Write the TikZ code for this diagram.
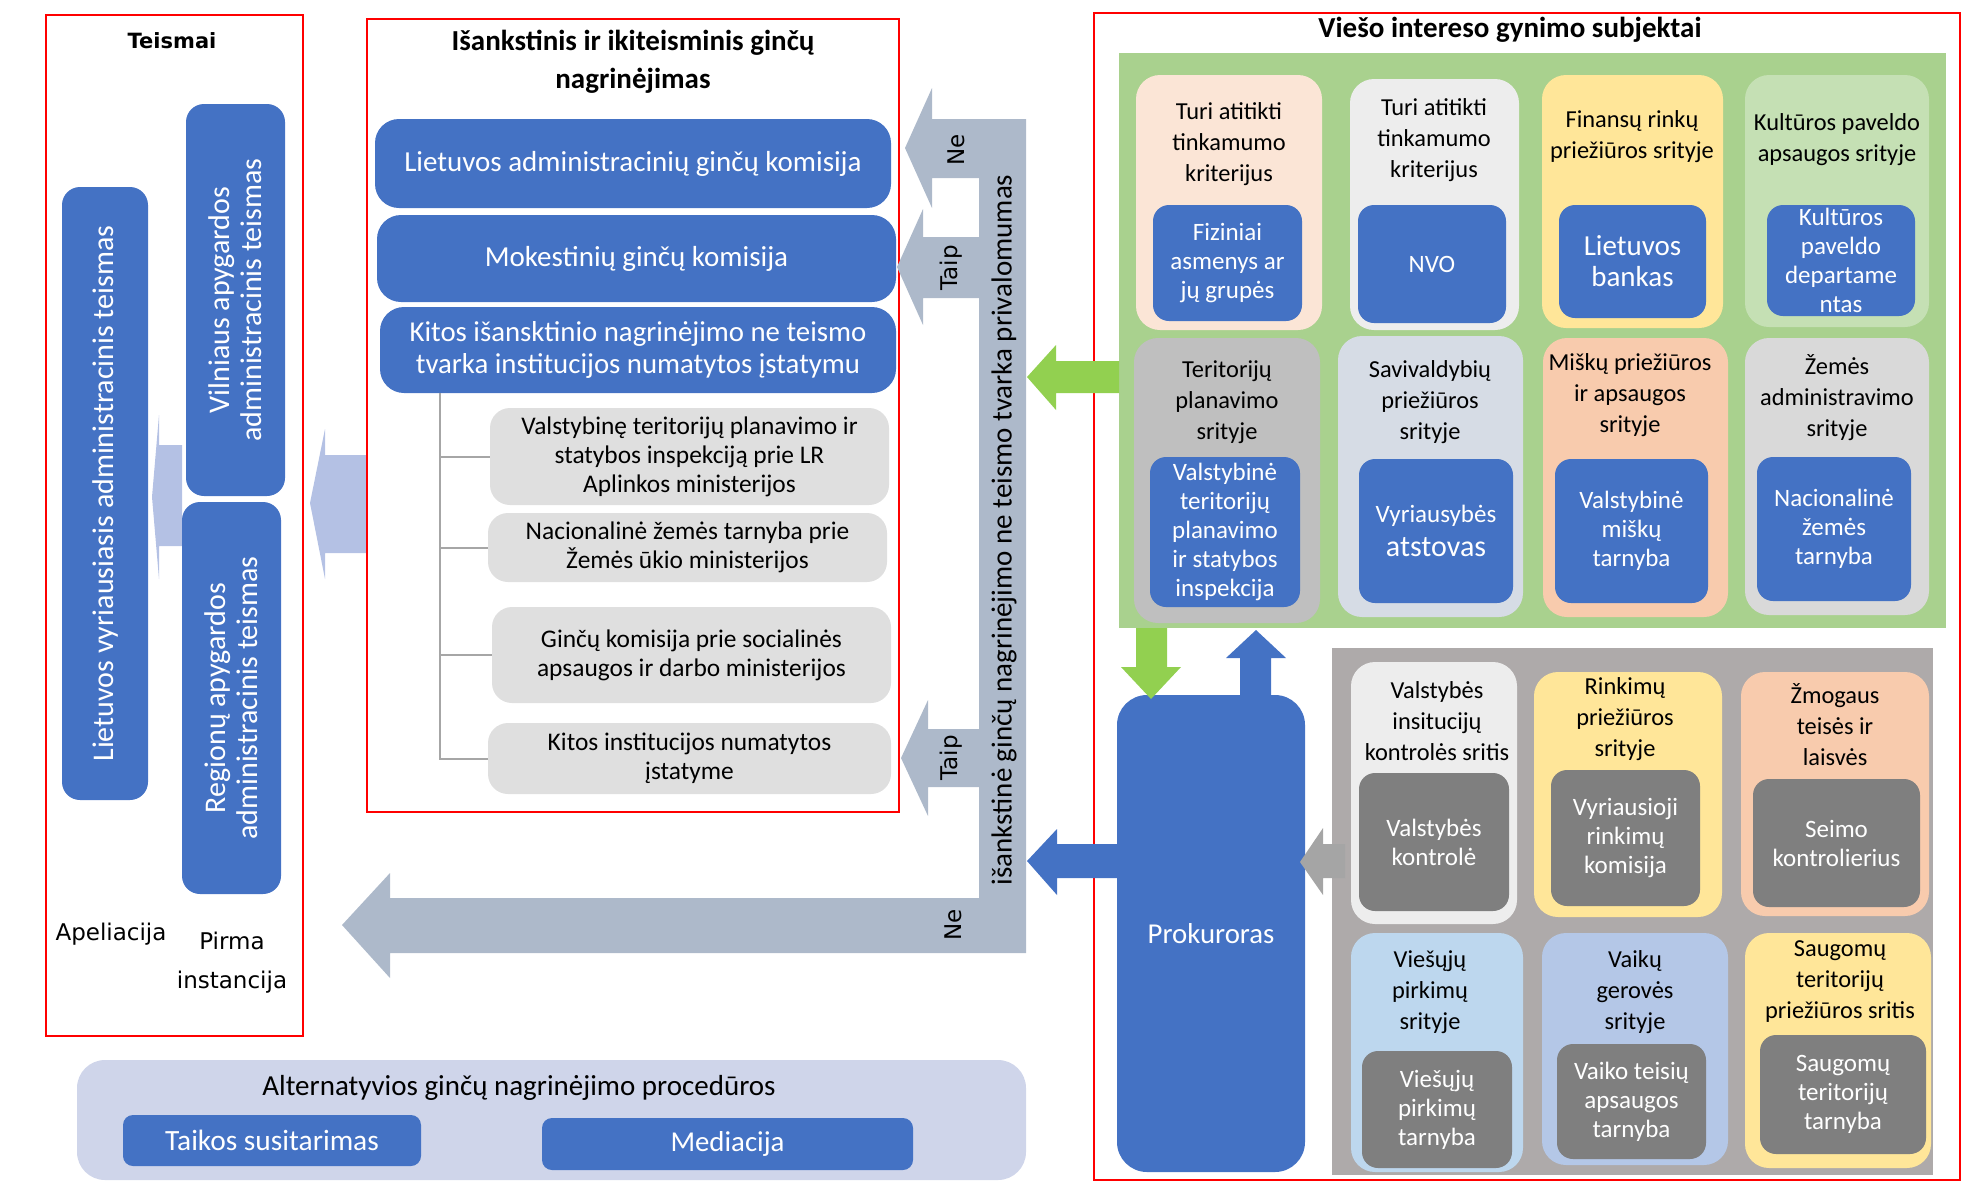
\documentclass[tikz,border=0pt]{standalone}
\usepackage{fontspec}
\setmainfont{Carlito}
\newfontfamily\vfont{DejaVu Sans}
\definecolor{cblue}{HTML}{4472C4}
\definecolor{arrgray}{HTML}{ADB9CA}
\definecolor{courtarr}{HTML}{B4C1E4}
\definecolor{gpanel}{HTML}{A9D18E}
\definecolor{garrow}{HTML}{92D050}
\definecolor{dpanel}{HTML}{AEAAAA}
\definecolor{dinner}{HTML}{7F7F7F}
\definecolor{altbg}{HTML}{CFD5EA}
\definecolor{lgray}{HTML}{DFDFDF}
\definecolor{cpeach}{HTML}{FBE5D6}
\definecolor{clgray}{HTML}{EDEDED}
\definecolor{cyellow}{HTML}{FFE699}
\definecolor{clgreen}{HTML}{C5E0B4}
\definecolor{cgray}{HTML}{BFBFBF}
\definecolor{cbluegray}{HTML}{D6DCE5}
\definecolor{corange}{HTML}{F8CBAD}
\definecolor{cgraytwo}{HTML}{D9D9D9}
\definecolor{clblue}{HTML}{BDD7EE}
\definecolor{clav}{HTML}{B4C7E7}
\definecolor{redline}{HTML}{FF0000}
\definecolor{treegray}{HTML}{A6A6A6}
\definecolor{sidearrow}{HTML}{A5A5A5}
\newcommand\fs[2]{\fontsize{#1}{#2}\selectfont}
\newcommand\bx[7]{\node[#6,anchor=center,minimum width={(#4-#2)*0.5pt},minimum height={(#5-#3)*0.5pt}] (#1) at ({(#2+#4)/2},{(#3+#5)/2}) {#7};}
\begin{document}
\begin{tikzpicture}[x=0.5pt,y=-0.5pt,
  frame/.style={draw=redline,line width=0.75pt,inner sep=0pt},
  bluebox/.style={fill=cblue,text=white,inner sep=0pt,align=center,rounded corners=6pt},
  graybox/.style={fill=lgray,inner sep=0pt,align=center,rounded corners=10pt,font=\fs{12.7}{14.5}},
  card/.style={inner sep=0pt,rounded corners=12pt},
  head/.style={align=center,font=\fs{12.2}{15.5},inner sep=0pt},
  innerb/.style={fill=cblue,text=white,inner sep=0pt,align=center,rounded corners=8pt,font=\fs{12.5}{14.5}},
  innerg/.style={fill=dinner,text=white,inner sep=0pt,align=center,rounded corners=8pt,font=\fs{12.5}{14.5}},
  courttext/.style={rotate=90,text=white,align=center,font=\fs{15}{16},inner sep=0pt},
  vlabel/.style={rotate=90,font=\vfont\fs{11.5}{13},inner sep=0pt}]
\useasboundingbox (0,0) rectangle (1965,1185);

% ---------------- Teismai ----------------
\bx{teismai}{46}{15}{303}{1036}{frame}{}
\node[font=\vfont\bfseries\fs{10.5}{13}] (tt) at (172,41) {Teismai};
\fill[courtarr] (152,497) -- (159,415) -- (159,445) -- (182,445) -- (182,546) -- (159,546) -- (159,579) -- cycle;
\fill[courtarr] (310,503) -- (325,429) -- (325,455) -- (367,455) -- (367,553) -- (325,553) -- (325,579) -- cycle;
\bx{lva}{62}{187}{148}{800}{bluebox,rounded corners=9pt}{}
\bx{vaat}{186}{104}{285}{496}{bluebox,rounded corners=9pt}{}
\bx{raat}{182}{502}{281}{894}{bluebox,rounded corners=9pt}{}
\node[courttext] (lvat) at (lva.center) {Lietuvos vyriausiasis administracinis teismas};
\node[courttext] (vaatt) at (vaat.center) {Vilniaus apygardos\\administracinis teismas};
\node[courttext] (raatt) at (raat.center) {Regionų apygardos\\administracinis teismas};
\node[font=\vfont\fs{11.5}{18}] (apel) at (111,934) {Apeliacija};
\node[font=\vfont\fs{11.5}{19.5},align=center] (pirma) at (232,963) {Pirma\\instancija};

% ---------------- Middle ----------------
\bx{ikiteism}{367}{19}{899}{812}{frame}{}
\node[font=\bfseries\fs{14.5}{19},align=center] (mt) at (633,62) {Išankstinis ir ikiteisminis ginčų\\nagrinėjimas};
\bx{lagk}{375}{119}{891}{208}{bluebox,rounded corners=12pt,font=\fs{14.5}{16}}{Lietuvos administracinių ginčų komisija}
\bx{mgk}{377}{215}{896}{302}{bluebox,rounded corners=12pt,font=\fs{14.5}{16}}{Mokestinių ginčų komisija}
\bx{kitos}{380}{307}{896}{393}{bluebox,rounded corners=12pt,font=\fs{14.4}{16}}{Kitos išansktinio nagrinėjimo ne teismo\\tvarka institucijos numatytos įstatymu}
\bx{ga}{490}{408}{889}{505}{graybox}{Valstybinę teritorijų planavimo ir\\statybos inspekciją prie LR\\Aplinkos ministerijos}
\bx{gb}{488}{513}{887}{582}{graybox}{Nacionalinė žemės tarnyba prie\\Žemės ūkio ministerijos}
\bx{gc}{492}{607}{891}{703}{graybox}{Ginčų komisija prie socialinės\\apsaugos ir darbo ministerijos}
\bx{gd}{488}{723}{891}{794}{graybox}{Kitos institucijos numatytos\\įstatyme}
\coordinate (tr) at (440,393);
\draw[treegray,line width=1pt] (tr) |- (gd.west);
\foreach \g in {ga,gb,gc} \draw[treegray,line width=1pt] (tr |- \g.west) -- (\g.west);

% ---------------- Gray decision structure ----------------
\fill[arrgray] (1026,119) -- (1026,953) -- (390,953) -- (390,978) -- (342,925) -- (390,873) -- (390,898)
  -- (979,898) -- (979,787) -- (928,787) -- (928,816) -- (901,758) -- (928,700) -- (928,729) -- (979,729)
  -- (979,298) -- (923,298) -- (923,325) -- (897,267) -- (923,209) -- (923,237) -- (979,237)
  -- (979,178) -- (932,178) -- (932,208) -- (905,148) -- (932,88) -- (932,119) -- cycle;
\node[rotate=90,font=\fs{14.5}{16},inner sep=0pt] (priv) at (1004,530) {išankstinė ginčų nagrinėjimo ne teismo tvarka privalomumas};
\node[vlabel] (ne1) at (956,150) {Ne};
\node[vlabel] (taip1) at (951,268) {Taip};
\node[vlabel] (taip2) at (951,758) {Taip};
\node[vlabel] (ne2) at (953,925) {Ne};

% ---------------- Right ----------------
\bx{viesas}{1094}{13}{1960}{1180}{frame}{}
\node[font=\bfseries\fs{14.5}{16}] (rt) at (1510,30) {Viešo intereso gynimo subjektai};
\bx{gpan}{1119}{53}{1946}{628}{fill=gpanel,inner sep=0pt}{}

\bx{c1}{1136}{75}{1322}{330}{card,fill=cpeach}{}
\node[head] (c1h) at (1229,144) {Turi atitikti\\tinkamumo\\kriterijus};
\bx{c1i}{1153}{205}{1302}{321}{innerb}{Fiziniai\\asmenys ar\\jų grupės}
\bx{c2}{1350}{79}{1519}{330}{card,fill=clgray}{}
\node[head] (c2h) at (1434,140) {Turi atitikti\\tinkamumo\\kriterijus};
\bx{c2i}{1358}{205}{1506}{323}{innerb}{NVO}
\bx{c3}{1542}{75}{1723}{328}{card,fill=cyellow}{}
\node[head] (c3h) at (1632,137) {Finansų rinkų\\priežiūros srityje};
\bx{c3i}{1559}{205}{1706}{318}{innerb,font=\fs{14.5}{15.5}}{Lietuvos\\bankas}
\bx{c4}{1745}{75}{1929}{327}{card,fill=clgreen}{}
\node[head] (c4h) at (1837,140) {Kultūros paveldo\\apsaugos srityje};
\bx{c4i}{1767}{205}{1915}{316}{innerb}{Kultūros\\paveldo\\departame\\ntas}

\bx{c5}{1134}{338}{1320}{623}{card,fill=cgray}{}
\node[head] (c5h) at (1227,402) {Teritorijų\\planavimo\\srityje};
\bx{c5i}{1150}{457}{1300}{607}{innerb}{Valstybinė\\teritorijų\\planavimo\\ir statybos\\inspekcija}
\bx{c6}{1338}{336}{1523}{617}{card,fill=cbluegray}{}
\node[head] (c6h) at (1430,402) {Savivaldybių\\priežiūros\\srityje};
\bx{c6i}{1359}{459}{1513}{603}{innerb,font=\fs{12.5}{17}}{Vyriausybės\\{\fs{15}{17}atstovas}}
\bx{c7}{1543}{338}{1728}{617}{card,fill=corange}{}
\node[head] (c7h) at (1630,395) {Miškų priežiūros\\ir apsaugos\\srityje};
\bx{c7i}{1555}{459}{1708}{603}{innerb}{Valstybinė\\miškų\\tarnyba}
\bx{c8}{1745}{338}{1929}{615}{card,fill=cgraytwo}{}
\node[head] (c8h) at (1837,398) {Žemės\\administravimo\\srityje};
\bx{c8i}{1757}{457}{1911}{601}{innerb}{Nacionalinė\\žemės\\tarnyba}

\bx{dpan}{1332}{648}{1933}{1175}{fill=dpanel,inner sep=0pt}{}
\bx{d1}{1351}{662}{1517}{924}{card,fill=clgray}{}
\node[head] (d1h) at (1437,721) {Valstybės\\insitucijų\\kontrolės sritis};
\bx{d1i}{1359}{773}{1509}{911}{innerg}{Valstybės\\kontrolė}
\bx{d2}{1534}{672}{1722}{917}{card,fill=cyellow}{}
\node[head] (d2h) at (1625,719) {Rinkimų\\priežiūros\\srityje};
\bx{d2i}{1551}{770}{1700}{906}{innerg}{Vyriausioji\\rinkimų\\komisija}
\bx{d3}{1741}{672}{1929}{916}{card,fill=corange}{}
\node[head] (d3h) at (1835,725) {Žmogaus\\teisės ir\\laisvės};
\bx{d3i}{1753}{779}{1920}{907}{innerg}{Seimo\\kontrolierius}
\bx{d4}{1351}{933}{1523}{1172}{card,fill=clblue}{}
\node[head] (d4h) at (1430,992) {Viešųjų\\pirkimų\\srityje};
\bx{d4i}{1362}{1051}{1512}{1168}{innerg}{Viešųjų\\pirkimų\\tarnyba}
\bx{d5}{1542}{933}{1728}{1165}{card,fill=clav}{}
\node[head] (d5h) at (1635,992) {Vaikų\\gerovės\\srityje};
\bx{d5i}{1557}{1044}{1706}{1159}{innerg}{Vaiko teisių\\apsaugos\\tarnyba}
\bx{d6}{1745}{933}{1931}{1168}{card,fill=cyellow}{}
\node[head] (d6h) at (1840,982) {Saugomų\\teritorijų\\priežiūros sritis};
\bx{d6i}{1760}{1035}{1926}{1154}{innerg}{Saugomų\\teritorijų\\tarnyba}

\bx{prok}{1117}{695}{1305}{1172}{fill=cblue,text=white,inner sep=0pt,rounded corners=15pt,font=\fs{14.4}{16}}{Prokuroras}

% arrows right side
\fill[garrow] (1027,377) -- (1056,345) -- (1056,361) -- (1119,361) -- (1119,393) -- (1056,393) -- (1056,410) -- cycle;
\fill[cblue] (1027,861) -- (1057,829) -- (1057,844) -- (1118,844) -- (1118,878) -- (1057,878) -- (1057,895) -- cycle;
\fill[garrow] (1136,628) -- (1167,628) -- (1167,667) -- (1181,667) -- (1151,699) -- (1121,667) -- (1136,667) -- cycle;
\fill[cblue] (1240,700) -- (1240,658) -- (1226,658) -- (1256,630) -- (1286,658) -- (1271,658) -- (1271,700) -- cycle;
\fill[sidearrow] (1300,862) -- (1323,828) -- (1323,844) -- (1345,844) -- (1345,878) -- (1323,878) -- (1323,895) -- cycle;

% ---------------- Alternatives ----------------
\bx{alt}{77}{1060}{1026}{1180}{fill=altbg,rounded corners=14pt,inner sep=0pt}{}
\node[font=\fs{14.5}{16}] (altt) at (519,1088) {Alternatyvios ginčų nagrinėjimo procedūros};
\bx{taikos}{123}{1115}{421}{1166}{bluebox,rounded corners=5pt,font=\fs{14.7}{16}}{Taikos susitarimas}
\bx{med}{542}{1118}{913}{1170}{bluebox,rounded corners=5pt,font=\fs{14.4}{16}}{Mediacija}
\end{tikzpicture}
\end{document}
